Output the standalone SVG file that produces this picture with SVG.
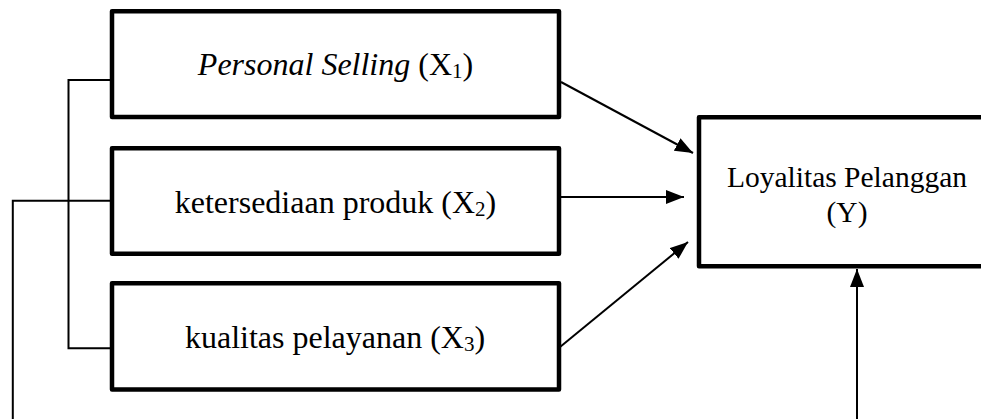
<svg xmlns="http://www.w3.org/2000/svg" width="981" height="419" viewBox="0 0 981 419">
  <style>
    .box { fill: #ffffff; stroke: #000000; stroke-width: 4.5; stroke-linejoin: round; }
    .line { fill: none; stroke: #000000; stroke-width: 2; }
    .label { font-family: "Liberation Serif", "Times New Roman", serif; font-size: 32px; fill: #000000; text-anchor: middle; }
    .ylabel { font-family: "Liberation Serif", "Times New Roman", serif; font-size: 29.5px; fill: #000000; text-anchor: middle; }
    .sub { font-size: 21px; }
    .it { font-style: italic; }
  </style>
  <defs>
    <marker id="head" markerUnits="userSpaceOnUse" markerWidth="19" markerHeight="15" refX="18" refY="7" orient="auto">
      <path d="M0,0 L18,7 L0,14 z" fill="#000000"/>
    </marker>
  </defs>

  <rect width="981" height="419" fill="#ffffff"/>

  <!-- connectors -->
  <g id="connectors">
    <!-- bracket joining X1 and X3 -->
    <polyline class="line" points="111,80 68.5,80 68.5,348.3 111,348.3"/>
    <!-- line leaving X2 toward the bottom edge -->
    <polyline class="line" points="111,200.8 12.8,200.8 12.8,419"/>
    <!-- arrows into Y -->
    <line class="line" x1="561" y1="82" x2="693" y2="153" marker-end="url(#head)"/>
    <line class="line" x1="561" y1="197" x2="684" y2="197" marker-end="url(#head)"/>
    <line class="line" x1="560" y1="347" x2="688" y2="242" marker-end="url(#head)"/>
    <line class="line" x1="857" y1="419" x2="857" y2="269" marker-end="url(#head)"/>
  </g>

  <g id="x1">
    <rect class="box" x="112" y="11.3" width="447" height="105.7"/>
    <text class="label" x="335.5" y="75"><tspan class="it">Personal Selling</tspan> (X<tspan class="sub" dy="3">1</tspan><tspan dy="-3">)</tspan></text>
  </g>

  <g id="x2">
    <rect class="box" x="112" y="148.3" width="447" height="105.5"/>
    <text class="label" x="335.5" y="213">ketersediaan produk (X<tspan class="sub" dy="3">2</tspan><tspan dy="-3">)</tspan></text>
  </g>

  <g id="x3">
    <rect class="box" x="112" y="283.3" width="447" height="106.2"/>
    <text class="label" x="335" y="348">kualitas pelayanan (X<tspan class="sub" dy="3">3</tspan><tspan dy="-3">)</tspan></text>
  </g>

  <g id="y">
    <rect class="box" x="699" y="117.2" width="300" height="149"/>
    <text class="ylabel" x="847" y="187">Loyalitas Pelanggan</text>
    <text class="ylabel" x="847" y="222">(Y)</text>
  </g>
</svg>
